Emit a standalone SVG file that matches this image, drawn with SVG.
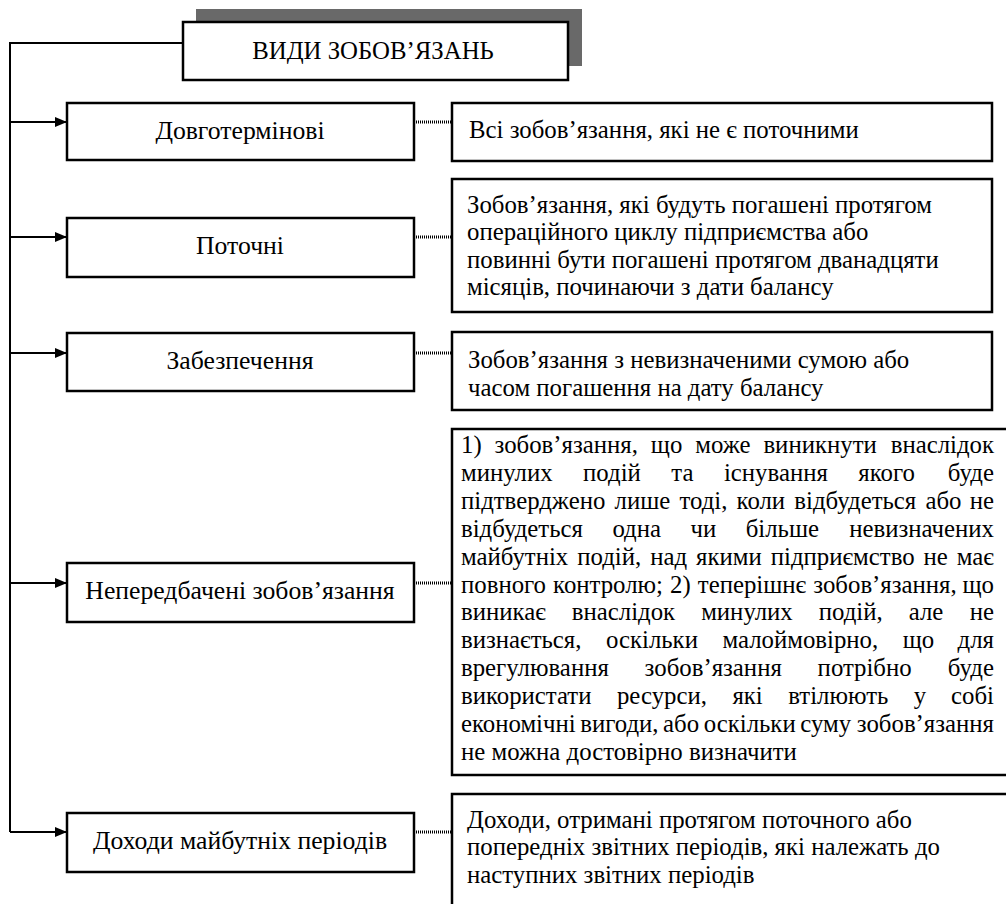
<svg xmlns="http://www.w3.org/2000/svg" width="1006" height="904" viewBox="0 0 1006 904">
<style>
.box{fill:#fff;stroke:#000;stroke-width:2.5}
.t{font-family:'Liberation Serif','Times New Roman',serif;font-size:24.8px;fill:#000}
.l{font-size:25.7px}
.c{text-anchor:middle}
.e{text-anchor:end}
.ln{fill:none;stroke:#000;stroke-width:2}
.dot{fill:none;stroke:#000;stroke-width:3;stroke-dasharray:1 1}
</style>
<defs>
<marker id="ah" viewBox="0 0 12 10" refX="12" refY="5" markerWidth="12" markerHeight="10" markerUnits="userSpaceOnUse" orient="auto">
<path d="M0,0 L12,5 L0,10 Z" fill="#000"/>
</marker>
</defs>
<g id="connectors">
<path class="ln" d="M183,43 H10 V832"/>
<path class="ln" d="M10,122 H67" marker-end="url(#ah)"/>
<path class="ln" d="M10,237 H67" marker-end="url(#ah)"/>
<path class="ln" d="M10,353 H67" marker-end="url(#ah)"/>
<path class="ln" d="M10,583 H67" marker-end="url(#ah)"/>
<path class="ln" d="M10,832 H67" marker-end="url(#ah)"/>
<path class="dot" d="M414,122 H452"/>
<path class="dot" d="M414,237 H452"/>
<path class="dot" d="M414,353 H452"/>
<path class="dot" d="M414,583 H452"/>
<path class="dot" d="M414,832 H452"/>
</g>
<g id="title">
<rect x="196" y="9" width="386" height="57" fill="#696969"/>
<rect class="box" x="183" y="22" width="385" height="58" stroke-width="3"/>
<text class="t c" x="373" y="59" font-size="25">ВИДИ ЗОБОВ’ЯЗАНЬ</text>
</g>
<g id="n1">
<rect class="box" x="67" y="103" width="347" height="57"/>
<text class="t l c" x="240" y="139">Довготермінові</text>
</g>
<g id="n2">
<rect class="box" x="67" y="218" width="347" height="59"/>
<text class="t l c" x="240" y="254">Поточні</text>
</g>
<g id="n3">
<rect class="box" x="67" y="333" width="347" height="58"/>
<text class="t l c" x="240" y="369">Забезпечення</text>
</g>
<g id="n4">
<rect class="box" x="67" y="563" width="347" height="59"/>
<text class="t l c" x="240" y="599">Непередбачені зобов’язання</text>
</g>
<g id="n5">
<rect class="box" x="67" y="813" width="347" height="59"/>
<text class="t l c" x="240" y="849">Доходи майбутніх періодів</text>
</g>
<g id="d1">
<rect class="box" x="452" y="103" width="540" height="58"/>
<text class="t" x="469" y="138">Всі зобов’язання, які не є поточними</text>
</g>
<g id="d2">
<rect class="box" x="452" y="179" width="540" height="133"/>
<text class="t" x="467" y="212.5">Зобов’язання, які будуть погашені протягом</text>
<text class="t" x="467" y="240">операційного циклу підприємства або</text>
<text class="t" x="467" y="267.5">повинні бути погашені протягом дванадцяти</text>
<text class="t" x="467" y="295">місяців, починаючи з дати балансу</text>
</g>
<g id="d3">
<rect class="box" x="452" y="332" width="540" height="78"/>
<text class="t" x="468" y="368">Зобов’язання з невизначеними сумою або</text>
<text class="t" x="468" y="395.5">часом погашення на дату балансу</text>
</g>
<g id="d4">
<rect class="box" x="452" y="429" width="600" height="346"/>
<text class="t" x="461" y="453" word-spacing="6.7">1) зобов’язання, що може виникнути <tspan x="994" class="e">внаслідок</tspan></text>
<text class="t" x="461" y="480.9" word-spacing="24.3">минулих подій та існування якого <tspan x="994" class="e">буде</tspan></text>
<text class="t" x="461" y="508.8" word-spacing="3">підтверджено лише тоді, коли відбудеться або <tspan x="994" class="e">не</tspan></text>
<text class="t" x="461" y="536.7" word-spacing="23.3">відбудеться одна чи більше <tspan x="994" class="e">невизначених</tspan></text>
<text class="t" x="461" y="564.6" word-spacing="2.8">майбутніх подій, над якими підприємство не <tspan x="994" class="e">має</tspan></text>
<text class="t" x="461" y="592.5" word-spacing="0.9">повного контролю; 2) теперішнє зобов’язання, <tspan x="994" class="e">що</tspan></text>
<text class="t" x="461" y="620.4" word-spacing="19.8">виникає внаслідок минулих подій, але <tspan x="994" class="e">не</tspan></text>
<text class="t" x="461" y="648.3" word-spacing="18.3">визнається, оскільки малоймовірно, що <tspan x="994" class="e">для</tspan></text>
<text class="t" x="461" y="676.2" word-spacing="29.6">врегулювання зобов’язання потрібно <tspan x="994" class="e">буде</tspan></text>
<text class="t" x="461" y="704.1" word-spacing="19.3">використати ресурси, які втілюють у <tspan x="994" class="e">собі</tspan></text>
<text class="t" x="461" y="732" word-spacing="-1.6">економічні вигоди, або оскільки суму <tspan x="994" class="e">зобов’язання</tspan></text>
<text class="t" x="461" y="759.9">не можна достовірно визначити</text>
</g>
<g id="d5">
<rect class="box" x="452" y="794" width="600" height="130"/>
<text class="t" x="467" y="827.5">Доходи, отримані протягом поточного або</text>
<text class="t" x="467" y="855">попередніх звітних періодів, які належать до</text>
<text class="t" x="467" y="882.5">наступних звітних періодів</text>
</g>
</svg>
